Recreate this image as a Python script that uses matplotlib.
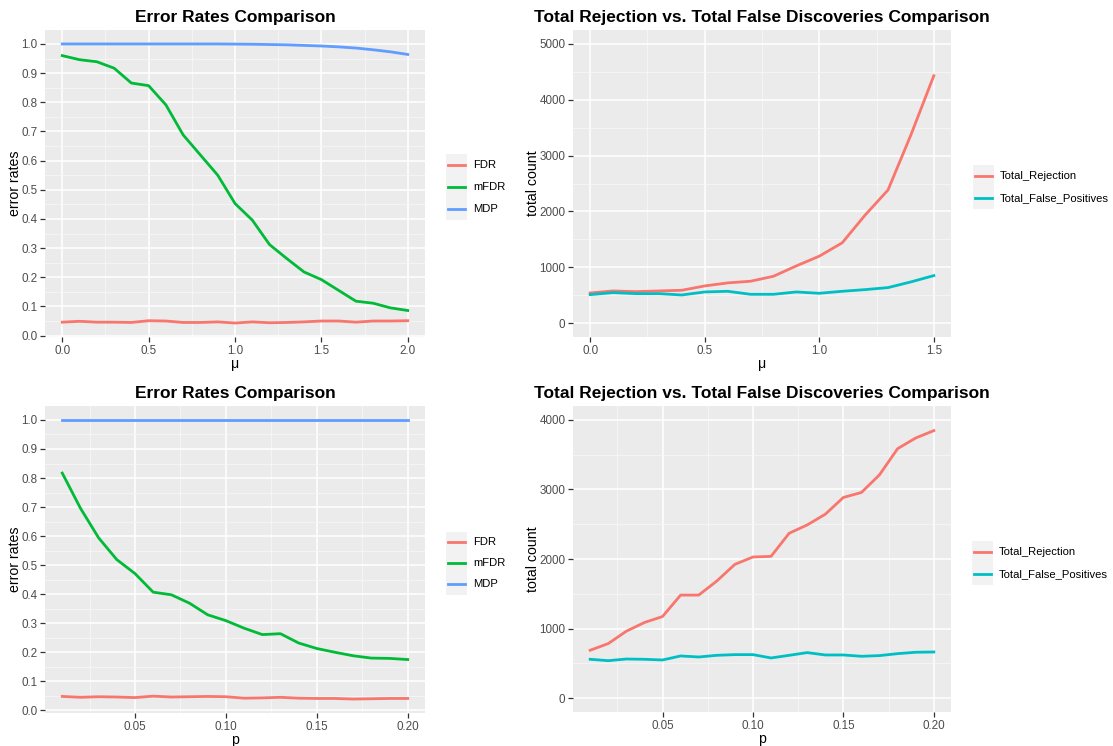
import numpy as np
import matplotlib
matplotlib.use("Agg")
import matplotlib.pyplot as plt
from matplotlib.lines import Line2D
from matplotlib.patches import Rectangle
from matplotlib.ticker import MultipleLocator, FixedLocator

plt.rcParams['font.family'] = ['Liberation Sans', 'DejaVu Sans']

# simulation results: varying signal strength mu
mu = [0.0, 0.1, 0.2, 0.3, 0.4, 0.5, 0.6, 0.7, 0.8, 0.9, 1.0,
      1.1, 1.2, 1.3, 1.4, 1.5, 1.6, 1.7, 1.8, 1.9, 2.0]
fdr_mu = [0.046, 0.049, 0.046, 0.046, 0.045, 0.051, 0.050, 0.045, 0.045, 0.047, 0.043,
          0.047, 0.044, 0.045, 0.047, 0.050, 0.050, 0.046, 0.050, 0.050, 0.051]
mfdr_mu = [0.960, 0.946, 0.939, 0.917, 0.866, 0.857, 0.791, 0.688, 0.619, 0.550, 0.453,
           0.396, 0.312, 0.264, 0.218, 0.192, 0.155, 0.118, 0.111, 0.095, 0.086]
mdp_mu = [1.0, 1.0, 1.0, 1.0, 1.0, 1.0, 1.0, 1.0, 1.0, 1.0, 0.9995,
          0.999, 0.998, 0.997, 0.995, 0.993, 0.990, 0.986, 0.980, 0.973, 0.964]

mu_count = [0.0, 0.1, 0.2, 0.3, 0.4, 0.5, 0.6, 0.7, 0.8, 0.9, 1.0, 1.1, 1.2, 1.3, 1.4, 1.5]
rej_mu = [539, 575, 563, 575, 587, 665, 719, 749, 838, 1024, 1198, 1437, 1934, 2383, 3371, 4431]
fp_mu = [509, 545, 527, 527, 503, 557, 569, 515, 515, 557, 533, 569, 599, 635, 737, 850]

# simulation results: varying proportion of non-nulls p
p = [0.01, 0.02, 0.03, 0.04, 0.05, 0.06, 0.07, 0.08, 0.09, 0.10,
     0.11, 0.12, 0.13, 0.14, 0.15, 0.16, 0.17, 0.18, 0.19, 0.20]
fdr_p = [0.048, 0.045, 0.047, 0.046, 0.044, 0.049, 0.046, 0.047, 0.048, 0.047,
         0.042, 0.043, 0.045, 0.042, 0.041, 0.041, 0.039, 0.040, 0.041, 0.041]
mfdr_p = [0.817, 0.696, 0.594, 0.519, 0.471, 0.407, 0.398, 0.369, 0.329, 0.309,
          0.283, 0.261, 0.264, 0.232, 0.213, 0.200, 0.188, 0.180, 0.179, 0.175]
mdp_p = [1.0] * 20
rej_p = [688, 784, 962, 1087, 1173, 1481, 1481, 1683, 1923, 2029,
         2038, 2370, 2490, 2644, 2885, 2957, 3212, 3587, 3740, 3846]
fp_p = [558, 538, 562, 558, 548, 606, 591, 615, 625, 625,
        577, 615, 654, 620, 620, 601, 611, 639, 659, 663]

rate_labels = ['FDR', 'mFDR', 'MDP']
rate_colors = ['#F8766D', '#00BA38', '#619CFF']
count_labels = ['Total_Rejection', 'Total_False_Positives']
count_colors = ['#F8766D', '#00BFC4']

W, H = 1113, 746
fig = plt.figure(figsize=(W / 100, H / 100), dpi=100)


def box(x0, y0, x1, y1):
    # pixel box (top-left origin) -> figure fraction rect
    return [x0 / W, (H - y1) / H, (x1 - x0) / W, (y1 - y0) / H]


def expand(lo, hi, frac=0.05):
    d = (hi - lo) * frac
    return lo - d, hi + d


def style(ax, title, xlabel, ylabel):
    ax.set_facecolor('#EBEBEB')
    for s in ax.spines.values():
        s.set_visible(False)
    ax.grid(which='major', color='white', lw=1.1)
    ax.grid(which='minor', color='#F7F7F7', lw=0.55)
    ax.set_axisbelow(True)
    ax.tick_params(which='major', direction='out', length=3.5, width=0.9,
                   color='#333333', labelcolor='#4D4D4D', labelsize=8.4, pad=2)
    ax.tick_params(which='minor', length=0)
    ax.set_title(title, fontsize=12.5, fontweight='bold', pad=6)
    ax.set_xlabel(xlabel, fontsize=10.2, labelpad=0)
    ax.set_ylabel(ylabel, fontsize=10.2, labelpad=-0.5)


def legend(x0, y_first, labels, colors, step):
    n = len(labels)
    fig.patches.append(Rectangle(((x0) / W, (H - (y_first + step * (n - 1) + step / 2)) / H),
                                 21 / W, step * n / H, transform=fig.transFigure,
                                 facecolor='#F2F2F2', edgecolor='none'))
    for i, (lab, c) in enumerate(zip(labels, colors)):
        y = y_first + i * step
        fig.lines.append(Line2D([(x0 + 2) / W, (x0 + 19) / W], [(H - y) / H] * 2,
                                transform=fig.transFigure, color=c, lw=2.0))
        fig.text((x0 + 27) / W, (H - y) / H, lab, fontsize=8.1, color='black',
                 va='center', ha='left')


# error rates vs mu
ax1 = fig.add_axes(box(45, 30, 425, 337))
for y, c in zip([fdr_mu, mfdr_mu, mdp_mu], rate_colors):
    ax1.plot(mu, y, color=c, lw=2.0)
ax1.set_xlim(*expand(min(mu), max(mu)))
ax1.set_ylim(*expand(min(fdr_mu), 1.0))
ax1.xaxis.set_major_locator(MultipleLocator(0.5))
ax1.xaxis.set_minor_locator(MultipleLocator(0.25))
ax1.yaxis.set_major_locator(MultipleLocator(0.1))
ax1.yaxis.set_minor_locator(MultipleLocator(0.05))
ax1.yaxis.set_major_formatter(lambda v, pos: f'{v:.1f}')
ax1.xaxis.set_major_formatter(lambda v, pos: f'{v:.1f}')
style(ax1, 'Error Rates Comparison', 'μ', 'error rates')

# counts vs mu
ax2 = fig.add_axes(box(573, 30, 951, 337))
for y, c in zip([rej_mu, fp_mu], count_colors):
    ax2.plot(mu_count, y, color=c, lw=2.0)
ax2.set_xlim(*expand(min(mu_count), max(mu_count)))
ax2.set_ylim(*expand(0, 5000))
ax2.xaxis.set_major_locator(MultipleLocator(0.5))
ax2.xaxis.set_minor_locator(MultipleLocator(0.25))
ax2.yaxis.set_major_locator(MultipleLocator(1000))
ax2.yaxis.set_minor_locator(MultipleLocator(500))
ax2.xaxis.set_major_formatter(lambda v, pos: f'{v:.1f}')
style(ax2, 'Total Rejection vs. Total False Discoveries Comparison', 'μ', 'total count')

# error rates vs p
ax3 = fig.add_axes(box(45, 406, 425, 713))
for y, c in zip([fdr_p, mfdr_p, mdp_p], rate_colors):
    ax3.plot(p, y, color=c, lw=2.0)
ax3.set_xlim(*expand(min(p), max(p)))
ax3.set_ylim(*expand(min(fdr_p), 1.0))
ax3.xaxis.set_major_locator(FixedLocator([0.05, 0.10, 0.15, 0.20]))
ax3.xaxis.set_minor_locator(FixedLocator([0.025, 0.075, 0.125, 0.175]))
ax3.yaxis.set_major_locator(MultipleLocator(0.1))
ax3.yaxis.set_minor_locator(MultipleLocator(0.05))
ax3.yaxis.set_major_formatter(lambda v, pos: f'{v:.1f}')
ax3.xaxis.set_major_formatter(lambda v, pos: f'{v:.2f}')
style(ax3, 'Error Rates Comparison', 'p', 'error rates')

# counts vs p
ax4 = fig.add_axes(box(573, 406, 951, 712))
for y, c in zip([rej_p, fp_p], count_colors):
    ax4.plot(p, y, color=c, lw=2.0)
ax4.set_xlim(*expand(min(p), max(p)))
ax4.set_ylim(*expand(0, 4000))
ax4.xaxis.set_major_locator(FixedLocator([0.05, 0.10, 0.15, 0.20]))
ax4.xaxis.set_minor_locator(FixedLocator([0.025, 0.075, 0.125, 0.175]))
ax4.yaxis.set_major_locator(MultipleLocator(1000))
ax4.yaxis.set_minor_locator(MultipleLocator(500))
ax4.xaxis.set_major_formatter(lambda v, pos: f'{v:.2f}')
style(ax4, 'Total Rejection vs. Total False Discoveries Comparison', 'p', 'total count')

legend(446, 165, rate_labels, rate_colors, 22)
legend(973, 176, count_labels, count_colors, 22)
legend(446, 542, rate_labels, rate_colors, 21)
legend(972, 552, count_labels, count_colors, 22)

fig.savefig('out.png', dpi=100, facecolor='white')
